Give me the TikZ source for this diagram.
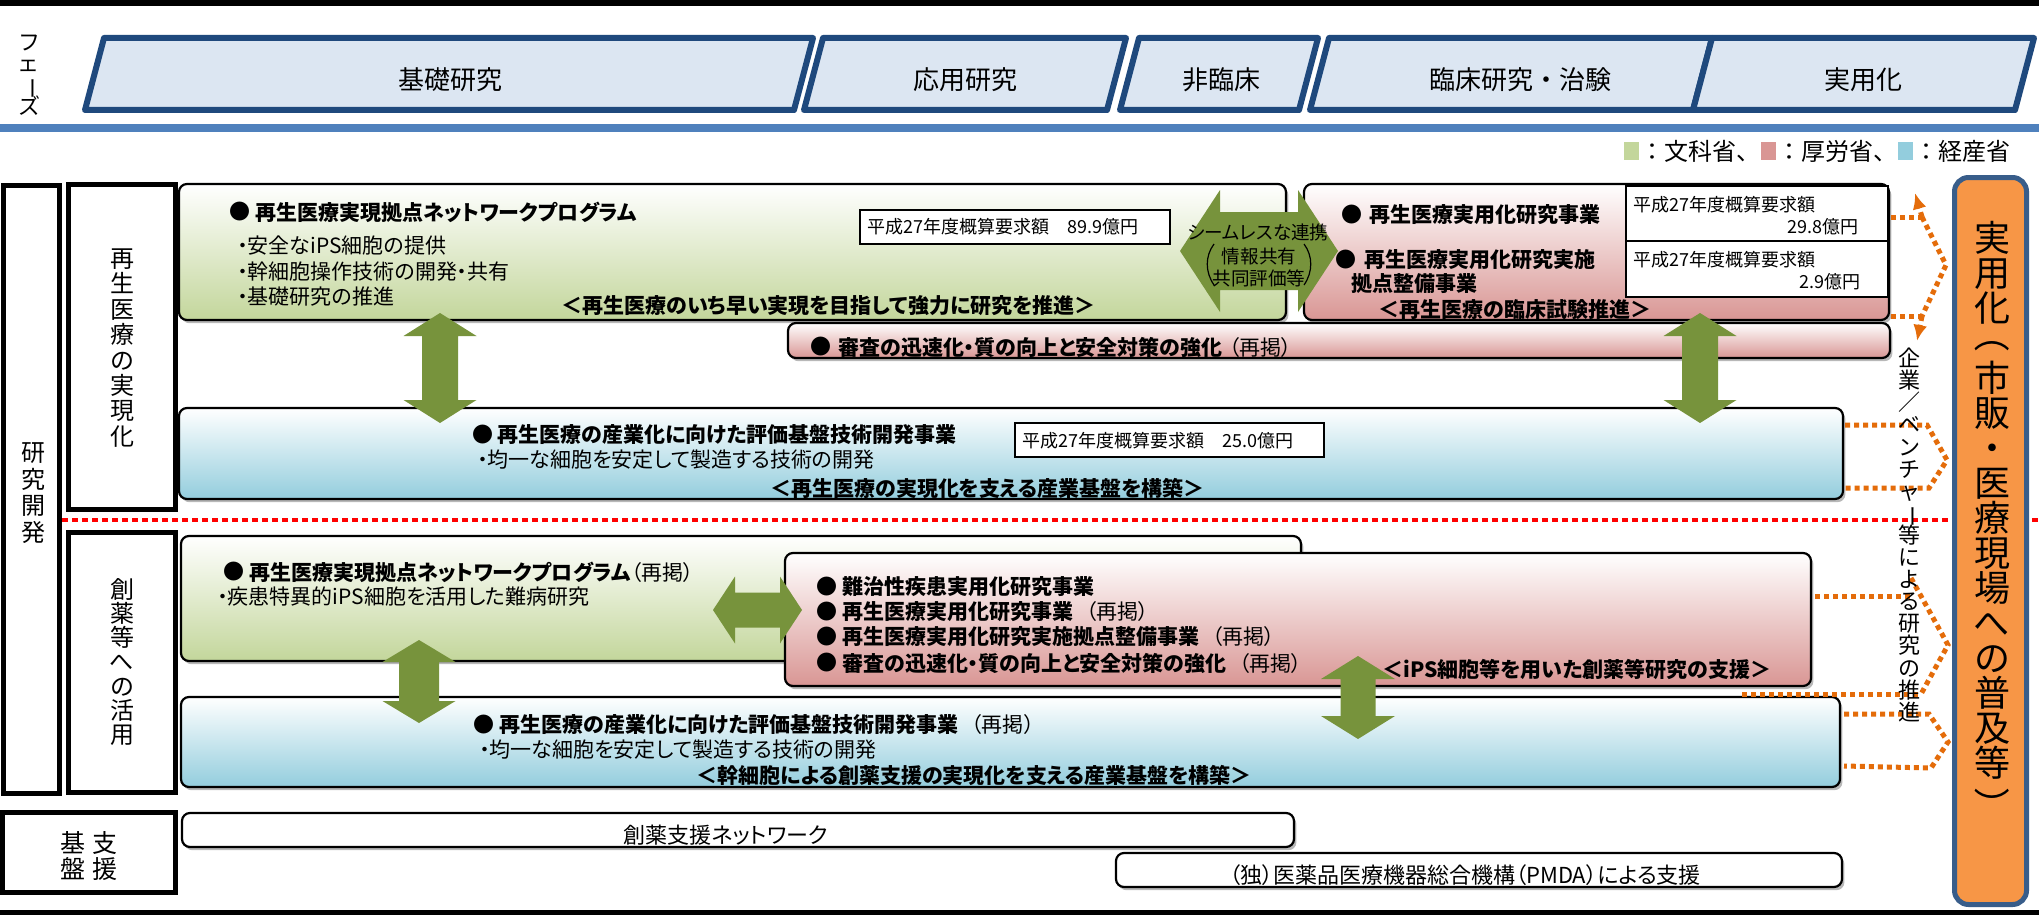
\documentclass[tikz,border=0pt]{standalone}
\usepackage{fontspec}
\setmainfont{Noto Sans CJK JP}[RawFeature=+palt]
\newfontfamily\jpfull{Noto Sans CJK JP}
\usetikzlibrary{shadows,arrows.meta}
\definecolor{phasefill}{HTML}{DCE6F2}
\definecolor{phaseline}{HTML}{1F497D}
\definecolor{barblue}{HTML}{4F81BD}
\definecolor{mext}{HTML}{C3D69B}
\definecolor{mhlw}{HTML}{D99694}
\definecolor{meti}{HTML}{93CDDD}
\definecolor{agreen}{HTML}{77933C}
\definecolor{oranfill}{HTML}{F79646}
\definecolor{oranline}{HTML}{385D8A}
\definecolor{dotorange}{HTML}{E46C0A}
\definecolor{dotred}{HTML}{FF0000}
\newcommand{\vrot}[1]{\rotatebox[origin=c]{-90}{#1}}
\newcommand{\vfs}[2]{\fontsize{#1}{#2}\selectfont\lineskiplimit=-30pt\relax}
\newcommand{\vdarr}[6]{\fill[garrow] (#1,#2) -- ({#1+#4},{#2+#6}) -- ({#1+#5},{#2+#6}) -- ({#1+#5},{#3-#6}) -- ({#1+#4},{#3-#6}) -- (#1,#3) -- ({#1-#4},{#3-#6}) -- ({#1-#5},{#3-#6}) -- ({#1-#5},{#2+#6}) -- ({#1-#4},{#2+#6}) -- cycle;}
\newcommand{\hdarr}[6]{\fill[garrow] (#2,#1) -- ({#2+#6},{#1-#4}) -- ({#2+#6},{#1-#5}) -- ({#3-#6},{#1-#5}) -- ({#3-#6},{#1-#4}) -- (#3,#1) -- ({#3-#6},{#1+#4}) -- ({#3-#6},{#1+#5}) -- ({#2+#6},{#1+#5}) -- ({#2+#6},{#1+#4}) -- cycle;}
\tikzset{
  phasebox/.style={draw=phaseline, line width=3pt, fill=phasefill, line join=round},
  phasetxt/.style={inner sep=0, font=\jpfull\fontsize{13pt}{15pt}\selectfont},
  legtx/.style={anchor=west, inner sep=0, font=\jpfull\fontsize{12pt}{14pt}\selectfont},
  labelbox/.style={draw=black, line width=2.5pt, fill=white},
  vlab/.style={align=center, inner sep=0, font=\vfs{12pt}{12.7pt}},
  cbox/.style={draw=black, line width=1.1pt, rounded corners=4pt, drop shadow={shadow xshift=1.2pt, shadow yshift=-1.6pt, opacity=0.28, fill=black}},
  mextbox/.style={cbox, top color=white, bottom color=mext},
  mhlwbox/.style={cbox, top color=white, bottom color=mhlw},
  metibox/.style={cbox, top color=white, bottom color=meti},
  whitebox/.style={cbox, fill=white},
  budget/.style={draw=black, line width=1pt, fill=white},
  tx/.style={anchor=west, inner sep=0, font=\fontsize{10.5pt}{12pt}\selectfont},
  btx/.style={anchor=west, inner sep=0, font=\fontsize{10.5pt}{12pt}\selectfont\bfseries},
  smalltx/.style={anchor=west, inner sep=0, font=\fontsize{9pt}{11pt}\selectfont},
  garrow/.style={fill=agreen},
  odot/.style={draw=dotorange, line width=2.5pt, dash pattern=on 2.5pt off 2pt},
  otip/.style={odot, -{Latex[length=8pt,width=7pt]}},
}
\begin{document}
\begin{tikzpicture}[x=0.5pt,y=-0.5pt]
\useasboundingbox (0,0) rectangle (2039,915);
\fill[white] (0,0) rectangle (2039,915);
\fill[black] (0,0) rectangle (2039,6);
\fill[barblue] (0,124) rectangle (2039,132);
\fill[black] (0,910) rectangle (2039,915);

% ---- phases
\node[vlab, font=\vfs{11pt}{10.7pt}] (phz) at (29,75) {フ\\ェ\\\vrot{ー}\\ズ};
\draw[phasebox] (104,38) -- (813,38) -- (794,110) -- (85,110) -- cycle;
\draw[phasebox] (823,38) -- (1126,38) -- (1107,110) -- (804,110) -- cycle;
\draw[phasebox] (1139,38) -- (1318,38) -- (1299,110) -- (1120,110) -- cycle;
\draw[phasebox] (1329,38) -- (1712,38) -- (1693,110) -- (1310,110) -- cycle;
\draw[phasebox] (1712,38) -- (2034,38) -- (2015,110) -- (1693,110) -- cycle;
\node[phasetxt] (ph1) at (450,80) {基礎研究};
\node[phasetxt] (ph2) at (965,80) {応用研究};
\node[phasetxt] (ph3) at (1221,80) {非臨床};
\node[phasetxt] (ph4) at (1520,80) {臨床研究・治験};
\node[phasetxt] (ph5) at (1863,80) {実用化};

% ---- legend
\fill[mext] (1624,142) rectangle (1639,160);
\node[legtx] (lg1) at (1640,151) {：文科省、};
\fill[mhlw] (1761,142) rectangle (1776,160);
\node[legtx] (lg2) at (1777,151) {：厚労省、};
\fill[meti] (1898,142) rectangle (1913,160);
\node[legtx] (lg3) at (1914,151) {：経産省};

% ---- row labels
\draw[labelbox] (3,185) rectangle (59,793);
\draw[labelbox] (68.5,184.5) rectangle (175.5,509.5);
\draw[labelbox] (68.5,532.5) rectangle (175.5,792.5);
\draw[labelbox] (2.5,812.5) rectangle (175.5,892.5);
\node[vlab, font=\vfs{12pt}{13.25pt}] (lkk) at (33,493) {研\\究\\開\\発};
\node[vlab] (lsai) at (122,348) {再\\生\\医\\療\\の\\実\\現\\化};
\node[vlab, font=\vfs{12pt}{12.15pt}] (lsou) at (122,662) {創\\薬\\等\\へ\\の\\活\\用};
\node[vlab, font=\vfs{12.5pt}{13pt}] (lsien) at (105,856) {支\\援};
\node[vlab, font=\vfs{12.5pt}{13pt}] (lkiban) at (73,856) {基\\盤};

% ---- red dotted separator
\draw[dotred, line width=2pt, dash pattern=on 3pt off 2pt] (62,520) -- (2039,520);

% ---- content boxes
\path[mextbox] (179,184) rectangle (1286,320);
\path[mhlwbox] (1304,184) rectangle (1889,320);
\path[mhlwbox] (788,323) rectangle (1890,358);
\path[metibox] (179,408) rectangle (1843,499);
\path[mextbox] (181,536) rectangle (1301,661);
\path[mhlwbox] (785,553) rectangle (1811,686);
\path[metibox] (181,697) rectangle (1840,787);
\path[whitebox] (182,813) rectangle (1294,847);
\path[whitebox] (1116,853) rectangle (1842,887);

% ---- budget boxes
\draw[budget] (860,210) rectangle (1170,244);
\draw[budget] (1626,186) rectangle (1888,241);
\draw[budget] (1626,241) rectangle (1888,297);
\draw[budget] (1015,423) rectangle (1324,457);

% ---- box A
\node[btx] (a0) at (229,212) {●};
\node[btx] (a1) at (255,212) {再生医療実現拠点ネットワークプログラム};
\node[tx] (a2) at (237,246) {・安全なiPS細胞の提供};
\node[tx] (a3) at (237,272) {・幹細胞操作技術の開発・共有};
\node[tx] (a4) at (237,297) {・基礎研究の推進};
\node[btx] (a5) at (561,306) {＜再生医療のいち早い実現を目指して強力に研究を推進＞};
\node[smalltx] (a6) at (867,227) {平成27年度概算要求額\hspace{1em}89.9億円};

% ---- box B
\node[btx] (b0) at (1341,215) {●};
\node[btx] (b1) at (1369,215) {再生医療実用化研究事業};
\node[btx] (b2) at (1335,260) {●};
\node[btx] (b3) at (1364,260) {再生医療実用化研究実施};
\node[btx] (b4) at (1351,284) {拠点整備事業};
\node[btx] (b5) at (1378,310) {＜再生医療の臨床試験推進＞};
\node[smalltx] (b6) at (1633,205) {平成27年度概算要求額};
\node[smalltx, anchor=east] (b7) at (1859,227) {29.8億円};
\node[smalltx] (b8) at (1633,260) {平成27年度概算要求額};
\node[smalltx, anchor=east] (b9) at (1861,282) {2.9億円};

% ---- strip
\node[btx] (s0) at (810,347) {●};
\node[tx] (s1) at (838,347) {{\bfseries 審査の迅速化・質の向上と安全対策の強化}\hspace{0.3em}（再掲）};

% ---- box C
\node[btx] (c0) at (472,435) {●};
\node[btx] (c1) at (497,435) {再生医療の産業化に向けた評価基盤技術開発事業};
\node[tx] (c2) at (477,460) {・均一な細胞を安定して製造する技術の開発};
\node[btx] (c3) at (770,488) {＜再生医療の実現化を支える産業基盤を構築＞};
\node[smalltx] (c4) at (1022,441) {平成27年度概算要求額\hspace{1em}25.0億円};

% ---- box D
\node[btx] (d0) at (223,572) {●};
\node[tx] (d1) at (249,572) {{\bfseries 再生医療実現拠点ネットワークプログラム}（再掲）};
\node[tx] (d2) at (217,597) {・疾患特異的iPS細胞を活用した難病研究};

% ---- box E
\node[btx] (e0) at (816,587) {●};
\node[btx] (e1) at (842,587) {難治性疾患実用化研究事業};
\node[btx] (e2) at (816,612) {●};
\node[tx] (e3) at (842,612) {{\bfseries 再生医療実用化研究事業}\hspace{0.6em}（再掲）};
\node[btx] (e4) at (816,637) {●};
\node[tx] (e5) at (842,637) {{\bfseries 再生医療実用化研究実施拠点整備事業}\hspace{0.6em}（再掲）};
\node[btx] (e6) at (816,663) {●};
\node[tx] (e7) at (842,663) {{\bfseries 審査の迅速化・質の向上と安全対策の強化}\hspace{0.6em}（再掲）};
\node[btx] (e8) at (1382,670) {＜iPS細胞等を用いた創薬等研究の支援＞};

% ---- box F
\node[btx] (f0) at (473,725) {●};
\node[tx] (f1) at (499,725) {{\bfseries 再生医療の産業化に向けた評価基盤技術開発事業}\hspace{0.6em}（再掲）};
\node[tx] (f2) at (479,750) {・均一な細胞を安定して製造する技術の開発};
\node[btx] (f3) at (696,775) {＜幹細胞による創薬支援の実現化を支える産業基盤を構築＞};

% ---- support boxes
\node[inner sep=0, font=\fontsize{11pt}{13pt}\selectfont] (g1) at (726,835) {創薬支援ネットワーク};
\node[inner sep=0, font=\fontsize{11pt}{13pt}\selectfont] (h1) at (1465,875) {（独）医薬品医療機器総合機構（PMDA）による支援};

% ---- green arrows
\hdarr{251}{1180}{1338}{61}{39}{40}
\node[inner sep=0, font=\fontsize{9.3pt}{11pt}\selectfont] (sl1) at (1258,232) {シームレスな連携};
\node[inner sep=0, font=\fontsize{9.3pt}{11pt}\selectfont] (sl2) at (1259,256) {情報共有};
\node[inner sep=0, font=\fontsize{9.3pt}{11pt}\selectfont] (sl3) at (1259,278) {共同評価等};
\draw[line width=0.6pt] (1214,244) .. controls (1205,256) and (1205,272) .. (1214,285);
\draw[line width=0.6pt] (1304,244) .. controls (1313,256) and (1313,272) .. (1304,285);
\hdarr{610}{713}{802}{33.5}{17.5}{22}
\vdarr{440}{313}{423}{36.5}{18}{23}
\vdarr{1700}{313}{423}{36.5}{18}{23}
\vdarr{419}{640}{723}{36.5}{20}{22}
\vdarr{1358}{656}{739}{37}{17.5}{23}

% ---- orange dotted connectors
\coordinate (p1) at (1922,217);
\coordinate (p2) at (1946,265);
\coordinate (p3) at (1922,316);
\draw[odot] (1891,217) -- (p1);
\draw[odot] (1891,316) -- (p3);
\draw[odot] (p1) -- (p2) -- (p3);
\draw[otip] (p1) -- (1915,193);
\draw[otip] (p3) -- (1917,341);

\coordinate (q1) at (1927,425);
\coordinate (q2) at (1947,460);
\coordinate (q3) at (1929,488);
\draw[odot] (1845,425) -- (q1) -- (q2) -- (q3) -- (1845,488);

\coordinate (r0) at (1911,578);
\coordinate (r1) at (1948,645);
\coordinate (r2) at (1921,694);
\draw[odot] (1815,596) -- (1912,596);
\draw[odot] (r0) -- (r1) -- (r2);
\draw[odot] (1742,694) -- (r2);

\coordinate (t1) at (1929,714);
\coordinate (t2) at (1948,742);
\coordinate (t3) at (1931,768);
\draw[odot] (1844,714) -- (t1) -- (t2) -- (t3) -- (1844,766);

% ---- vertical note
\node[vlab, font=\vfs{11pt}{11.05pt}] (kigyo) at (1909,535) {企\\業\\／\\ベ\\ン\\チ\\ャ\\\vrot{ー}\\等\\に\\よ\\る\\研\\究\\の\\推\\進};

% ---- goal box
\draw[draw=oranline, line width=2.5pt, fill=oranfill, rounded corners=7pt] (1954.5,177.5) rectangle (2026.5,904.5);
\node[vlab, font=\vfs{18pt}{17.5pt}] (goal) at (1992,516) {実\\用\\化\\\vrot{（}\\市\\販\\・\\医\\療\\現\\場\\へ\\の\\普\\及\\等\\\vrot{）}};
\end{tikzpicture}
\end{document}
